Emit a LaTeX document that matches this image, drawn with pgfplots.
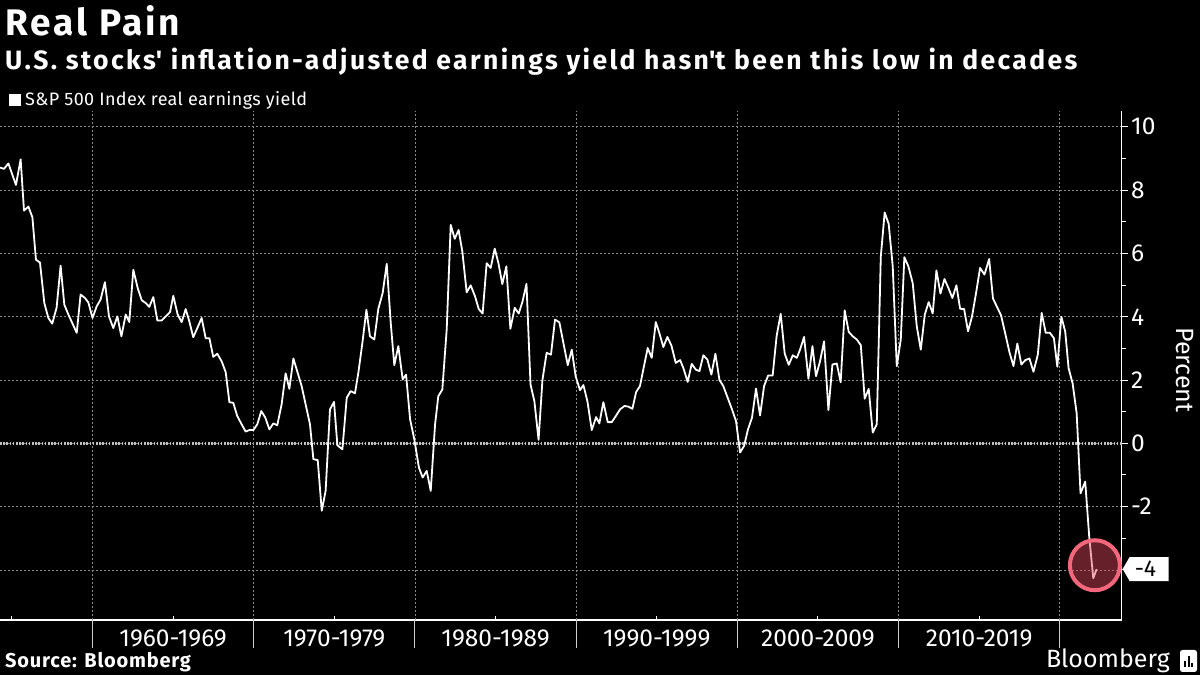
\documentclass[border=0pt]{standalone}
\usepackage{fontspec}
\setmainfont{Fira Sans}
\usepackage{pgfplots}
\pgfplotsset{compat=1.18}
\definecolor{gridgray}{HTML}{8A8A8A}
\definecolor{ringpink}{HTML}{F2677B}
\definecolor{ringfill}{HTML}{E0485C}

\pgfplotstableread{
year val
1954.26 8.71
1954.51 8.67
1954.78 8.84
1955.25 8.16
1955.54 8.97
1955.75 7.35
1956.02 7.48
1956.27 7.14
1956.49 5.80
1956.74 5.71
1957.01 4.43
1957.26 3.96
1957.50 3.78
1957.77 4.28
1958.02 5.61
1958.25 4.38
1958.50 4.07
1959.02 3.49
1959.26 4.70
1959.53 4.59
1959.74 4.45
1960.00 3.96
1960.26 4.33
1960.50 4.54
1960.77 5.09
1961.02 4.01
1961.29 3.64
1961.54 4.01
1961.79 3.38
1962.06 4.07
1962.28 3.83
1962.53 5.48
1962.80 4.91
1963.05 4.52
1963.30 4.43
1963.52 4.31
1963.77 4.62
1964.02 3.88
1964.29 3.88
1964.54 4.01
1964.81 4.15
1965.01 4.66
1965.28 4.07
1965.53 3.83
1965.78 4.24
1966.00 3.86
1966.25 3.35
1966.50 3.64
1966.77 3.96
1967.02 3.32
1967.25 3.32
1967.49 2.73
1967.74 2.83
1968.01 2.59
1968.26 2.25
1968.49 1.30
1968.73 1.28
1968.98 0.86
1969.25 0.60
1969.50 0.37
1969.73 0.42
1969.98 0.42
1970.22 0.60
1970.47 1.02
1970.72 0.81
1970.97 0.44
1971.22 0.63
1971.46 0.57
1971.73 1.23
1971.98 2.21
1972.21 1.72
1972.46 2.68
1972.97 1.81
1973.49 0.60
1973.70 -0.50
1973.97 -0.53
1974.22 -2.13
1974.46 -1.50
1974.73 1.07
1974.98 1.31
1975.19 -0.06
1975.50 -0.19
1975.77 1.44
1976.01 1.65
1976.28 1.58
1976.49 2.23
1976.74 3.17
1976.99 4.22
1977.21 3.38
1977.48 3.28
1977.73 4.25
1978.00 4.75
1978.25 5.67
1978.50 3.80
1978.72 2.47
1978.97 3.07
1979.24 2.02
1979.45 2.17
1979.70 0.76
1979.96 0.13
1980.25 -0.77
1980.48 -1.08
1980.73 -0.87
1980.98 -1.50
1981.25 0.60
1981.45 1.49
1981.70 1.70
1981.97 3.59
1982.22 6.90
1982.47 6.46
1982.71 6.74
1982.94 6.06
1983.21 4.77
1983.46 4.99
1983.73 4.64
1983.96 4.24
1984.20 4.10
1984.45 5.69
1984.70 5.54
1984.95 6.15
1985.18 5.69
1985.42 5.03
1985.67 5.59
1985.92 3.62
1986.19 4.28
1986.44 4.10
1986.68 4.49
1986.92 5.04
1987.17 1.86
1987.41 1.33
1987.67 0.11
1987.91 2.00
1988.17 2.86
1988.44 2.80
1988.69 3.91
1988.96 3.82
1989.21 3.17
1989.48 2.47
1989.73 2.96
1989.97 2.12
1990.24 1.68
1990.45 1.84
1990.70 1.33
1990.97 0.42
1991.24 0.83
1991.44 0.63
1991.69 1.30
1991.96 0.67
1992.21 0.67
1992.46 0.86
1992.72 1.07
1993.00 1.18
1993.24 1.16
1993.49 1.09
1993.72 1.62
1993.96 1.81
1994.21 2.44
1994.44 3.01
1994.69 2.70
1994.94 3.83
1995.16 3.49
1995.41 3.04
1995.66 3.36
1995.91 3.09
1996.18 2.54
1996.45 2.63
1996.65 2.38
1996.92 1.94
1997.17 2.51
1997.42 2.33
1997.65 2.28
1997.89 2.78
1998.14 2.65
1998.39 2.17
1998.64 2.83
1998.89 2.00
1999.13 1.81
1999.40 1.44
1999.67 1.07
1999.92 0.70
2000.17 -0.29
2000.42 -0.08
2000.66 0.44
2000.91 0.81
2001.16 1.73
2001.41 0.88
2001.66 1.81
2001.91 2.14
2002.19 2.14
2002.44 3.40
2002.69 4.09
2002.94 2.83
2003.19 2.48
2003.44 2.78
2003.69 2.70
2003.89 2.96
2004.14 3.36
2004.41 2.04
2004.66 3.07
2004.88 2.12
2005.13 2.59
2005.38 3.22
2005.65 1.05
2005.90 2.49
2006.17 2.52
2006.41 1.93
2006.66 4.20
2006.91 3.52
2007.16 3.38
2007.41 3.28
2007.66 3.10
2007.90 1.41
2008.15 1.72
2008.40 0.34
2008.65 0.60
2008.90 5.90
2009.14 7.29
2009.39 6.93
2009.64 5.59
2009.89 2.44
2010.14 3.28
2010.36 5.88
2010.61 5.59
2010.88 5.06
2011.13 3.70
2011.38 2.96
2011.63 4.07
2011.87 4.46
2012.12 4.10
2012.35 5.46
2012.60 4.73
2012.85 5.19
2013.09 4.91
2013.34 4.59
2013.59 4.99
2013.82 4.25
2014.07 4.24
2014.31 3.54
2014.56 4.01
2014.81 4.75
2015.06 5.54
2015.33 5.33
2015.62 5.82
2015.86 4.57
2016.11 4.31
2016.36 4.04
2016.61 3.49
2016.88 2.88
2017.13 2.44
2017.37 3.15
2017.62 2.49
2017.87 2.63
2018.12 2.68
2018.37 2.26
2018.64 2.80
2018.88 4.12
2019.13 3.49
2019.39 3.49
2019.64 3.32
2019.85 2.42
2020.10 4.00
2020.34 3.53
2020.55 2.37
2020.80 1.89
2021.05 0.95
2021.29 -1.58
2021.58 -1.21
2021.83 -2.95
2022.08 -4.26
2022.29 -3.97
}\realyield

\begin{document}
\begin{tikzpicture}[x=1pt,y=1pt]
\fill[black] (0,0) rectangle (1200,675);
\useasboundingbox (0,0) rectangle (1200,675);

% headline, subtitle and series key
\node[anchor=base west, inner sep=0, text=white,
      font=\bfseries\fontsize{37}{40}\selectfont\addfontfeatures{LetterSpace=8}] at (5,639) {Real Pain};
\node[anchor=base west, inner sep=0, text=white,
      font=\bfseries\fontsize{26.5}{28}\selectfont\addfontfeatures{LetterSpace=9}] at (5,605)
      {U.S. stocks\textquotesingle{} inflation-adjusted earnings yield hasn\textquotesingle t been this low in decades};
\fill[white] (9,569) rectangle (21,581);
\node[anchor=base west, inner sep=0, text=white,
      font=\fontsize{18}{18}\selectfont\addfontfeatures{LetterSpace=2}] at (25,569) {S\&P 500 Index real earnings yield};

\begin{axis}[
  at={(0pt,55pt)}, anchor=south west,
  scale only axis, width=1121.6pt, height=509.1pt,
  xmin=1954.26, xmax=2023.84, ymin=-5.58, ymax=10.5,
  clip=false,
  axis x line*=bottom, axis y line*=right,
  axis line style={white, line width=1.2pt, -},
  xtick={1965,1975,1985,1995,2005,2015},
  xticklabels={1960-1969,1970-1979,1980-1989,1990-1999,2000-2009,2010-2019},
  xtick style={draw=none},
  xticklabel style={white, font=\fontsize{24.5}{24}\selectfont},
  ytick={-4,-2,0,2,4,6,8,10},
  yticklabels={{},-2,0,2,4,6,8,10},
  minor y tick num=1,
  tick align=outside,
  major tick length=6pt, minor tick length=4pt,
  ytick style={white, line width=1pt},
  yticklabel style={white, font=\fontsize{24.5}{24}\selectfont},
  ymajorgrids,
  grid style={gridgray, dash pattern=on 2pt off 2pt, line width=0.8pt},
]
% zero line
\draw[white!75!black, line width=2.6pt, dash pattern=on 1.6pt off 1.6pt]
  (axis cs:1954.26,0) -- (axis cs:2023.84,0);
% decade separators, with their long ticks below the axis
\pgfplotsinvokeforeach{1960,1970,1980,1990,2000,2010,2020}{
  \draw[gridgray, dash pattern=on 2pt off 2pt, line width=0.8pt]
    (axis cs:#1,-5.58) -- (axis cs:#1,10.5);
  \draw[white!80!black, line width=0.9pt] (axis cs:#1,-5.58) -- ++(0pt,-28pt);
}
% mid-decade ticks
\pgfplotsinvokeforeach{1955,1965,1975,1985,1995,2005,2015}{
  \draw[white, line width=1pt] (axis cs:#1,-5.58) -- ++(0pt,4pt);
}
\addplot[white, line width=1.8pt, line join=round] table[x=year, y=val] {\realyield};
% highlight of the latest reading
\addplot[only marks, mark=*, mark size=25pt,
  mark options={draw=ringpink, line width=4pt, fill=ringfill, fill opacity=0.45}]
  coordinates {(2022.18,-3.85)};
\coordinate (lastv) at (axis cs:2023.84,-3.97);
\end{axis}

% value tag for the latest reading
\fill[white] ([xshift=1pt]lastv) -- ++(7pt,12pt) -- ++(39pt,0pt) -- ++(0pt,-24pt) -- ++(-39pt,0pt) -- cycle;
\node[anchor=west, inner sep=0, text=black, font=\fontsize{23}{23}\selectfont]
  at ([xshift=13pt]lastv) {-4};

\node[rotate=-90, text=white, font=\fontsize{25}{25}\selectfont] at (1185,305) {Percent};

% footer
\node[anchor=base west, inner sep=0, text=white,
      font=\bfseries\fontsize{20}{20}\selectfont\addfontfeatures{LetterSpace=4}] at (5,8) {Source: Bloomberg};
\node[anchor=base east, inner sep=0, text=white,
      font=\fontsize{25}{25}\selectfont] at (1170,8) {Bloomberg};
\fill[white, rounded corners=2.5pt] (1180,3) rectangle (1197,25);
\fill[black] (1184,8) rectangle (1186,14);
\fill[black] (1187.5,8) rectangle (1189.5,19);
\fill[black] (1191,8) rectangle (1193,12);
\end{tikzpicture}
\end{document}
